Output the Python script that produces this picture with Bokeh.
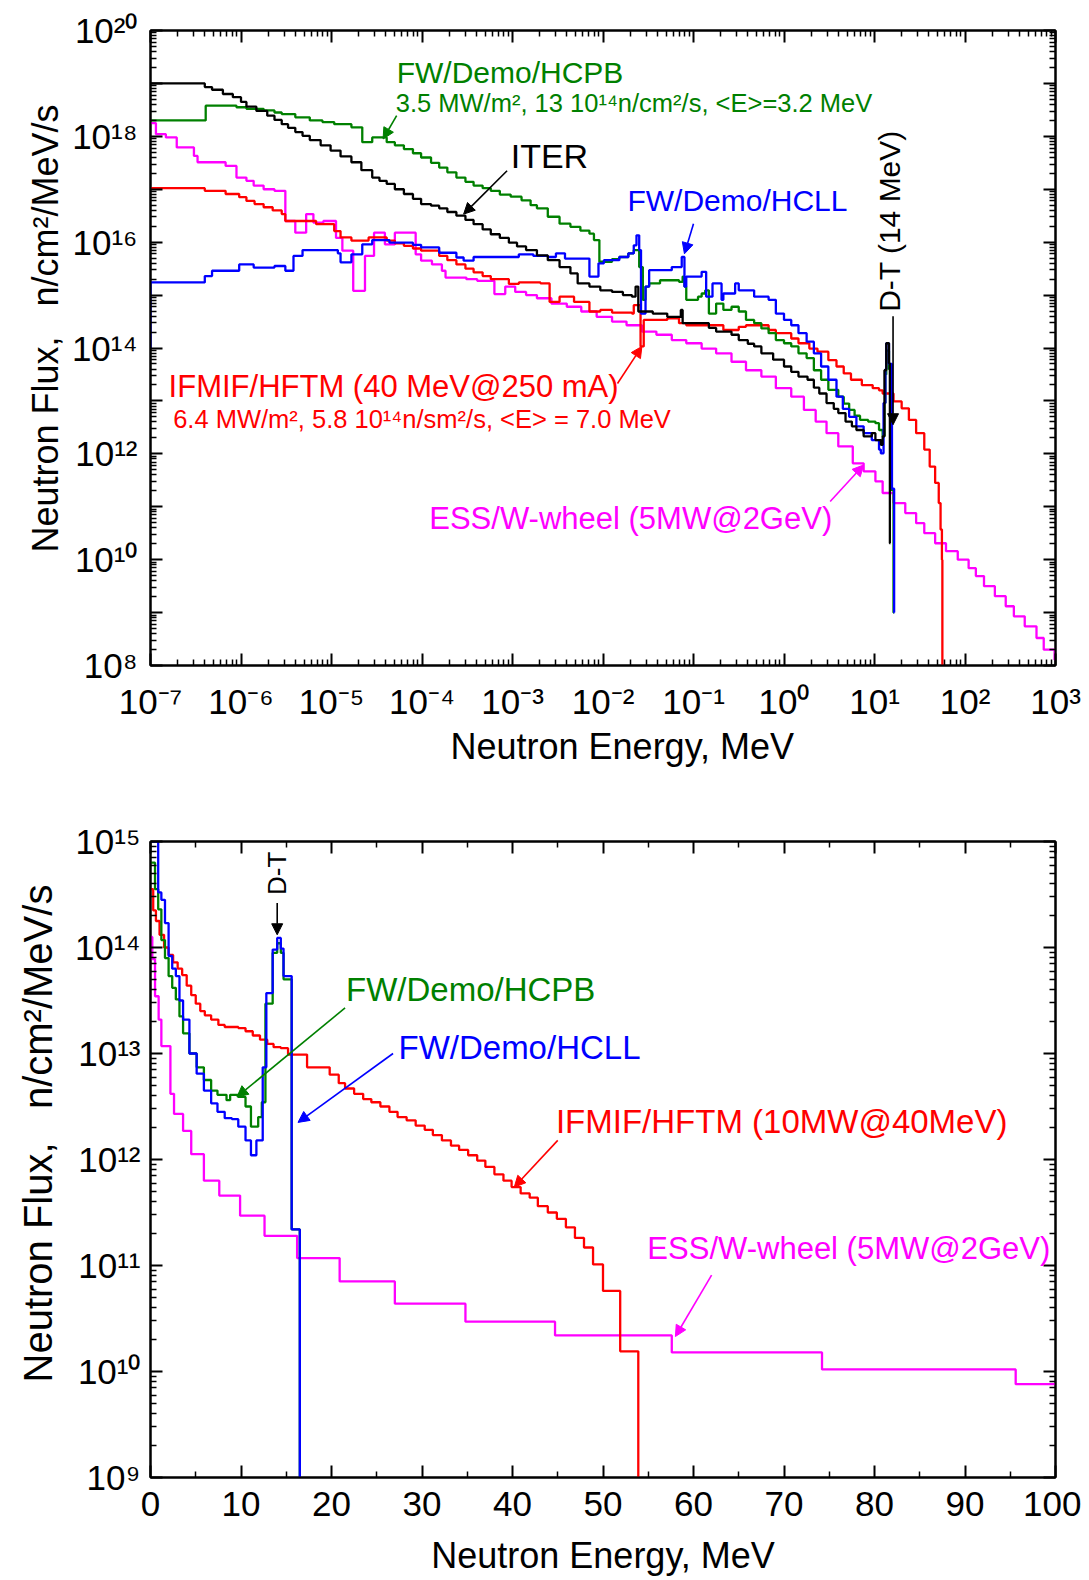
import numpy as np
from bokeh.plotting import figure
from bokeh.models import (Label, Arrow, NormalHead, LogAxis, LinearAxis, FixedTicker,
                          CustomJSTickFormatter, Range1d, Title)
from bokeh.layouts import column
from bokeh.embed import file_html
from bokeh.resources import INLINE

FONT = "Liberation Sans"
GREEN, BLUE, RED, MAGENTA, BLACK = "#008000", "#0000ff", "#ff0000", "#ff00ff", "#000000"

# ---------------- TOP PANEL DATA: (log10 E [MeV], log10 flux) step starts ----------------
ITER_TOP = [(-7.0, 19.0), (-6.40, 18.93), (-6.32, 18.88), (-6.20, 18.80), (-6.09, 18.74), (-6.00, 18.65),
            (-5.94, 18.56), (-5.83, 18.48), (-5.71, 18.39), (-5.63, 18.31), (-5.55, 18.23), (-5.48, 18.16),
            (-5.40, 18.08), (-5.32, 18.01), (-5.24, 17.93), (-5.12, 17.83), (-5.01, 17.73), (-4.90, 17.62),
            (-4.78, 17.51), (-4.67, 17.36), (-4.55, 17.22), (-4.47, 17.16), (-4.39, 17.10), (-4.30, 17.00),
            (-4.20, 16.91), (-4.10, 16.82), (-4.01, 16.72), (-3.90, 16.69), (-3.81, 16.64), (-3.72, 16.57),
            (-3.62, 16.50), (-3.52, 16.42), (-3.43, 16.34), (-3.33, 16.24), (-3.24, 16.15), (-3.14, 16.08),
            (-3.04, 15.99), (-2.95, 15.92), (-2.85, 15.85), (-2.73, 15.75), (-2.61, 15.66), (-2.48, 15.53),
            (-2.36, 15.41), (-2.28, 15.22), (-2.15, 15.16), (-2.03, 15.09), (-1.90, 15.06), (-1.78, 15.00),
            (-1.68, 14.97), (-1.64, 15.16), (-1.61, 14.69), (-1.45, 14.65), (-1.29, 14.59), (-1.14, 14.72),
            (-1.12, 14.47), (-0.83, 14.38), (-0.75, 14.31), (-0.58, 14.25), (-0.50, 14.15), (-0.40, 14.08),
            (-0.33, 14.03), (-0.25, 13.90), (-0.12, 13.78), (0.0, 13.65), (0.08, 13.55), (0.16, 13.46),
            (0.26, 13.40), (0.33, 13.25), (0.39, 13.14), (0.47, 12.96), (0.55, 12.85), (0.60, 12.77),
            (0.68, 12.61), (0.75, 12.52), (0.80, 12.45), (0.88, 12.33), (0.97, 12.39), (1.01, 12.26),
            (1.07, 12.17), (1.09, 12.33), (1.11, 13.58), (1.13, 14.09), (1.16, 13.71), (1.17, 10.31)]
ITER_TOP_END = 1.175

HCPB_TOP = [(-7.0, 18.30), (-6.39, 18.58), (-6.05, 18.55), (-5.94, 18.52), (-5.75, 18.49), (-5.63, 18.45),
            (-5.55, 18.42), (-5.40, 18.36), (-5.24, 18.30), (-5.10, 18.27), (-4.97, 18.23), (-4.78, 18.17),
            (-4.66, 17.89), (-4.55, 17.98), (-4.39, 17.89), (-4.30, 17.83), (-4.20, 17.76), (-4.10, 17.68),
            (-4.01, 17.60), (-3.90, 17.50), (-3.81, 17.41), (-3.72, 17.32), (-3.62, 17.22), (-3.52, 17.14),
            (-3.43, 17.07), (-3.33, 17.02), (-3.24, 16.97), (-3.14, 16.90), (-3.02, 16.86), (-2.90, 16.79),
            (-2.80, 16.70), (-2.73, 16.64), (-2.61, 16.48), (-2.48, 16.35), (-2.36, 16.29), (-2.25, 16.22),
            (-2.15, 16.16), (-2.10, 16.04), (-2.04, 15.63), (-1.90, 15.68), (-1.82, 15.72), (-1.72, 15.79),
            (-1.66, 15.85), (-1.60, 15.53), (-1.56, 14.91), (-1.53, 15.16), (-1.49, 15.22), (-1.37, 15.28),
            (-1.16, 15.25), (-1.12, 15.35), (-1.10, 15.16), (-1.08, 14.91), (-0.95, 14.97), (-0.91, 15.03),
            (-0.87, 15.09), (-0.83, 14.65), (-0.75, 14.84), (-0.67, 14.72), (-0.58, 14.78), (-0.50, 14.69),
            (-0.42, 14.53), (-0.33, 14.47), (-0.25, 14.37), (-0.17, 14.28), (-0.09, 14.15), (0.0, 14.09),
            (0.08, 14.03), (0.16, 13.90), (0.25, 13.81), (0.33, 13.58), (0.41, 13.40), (0.49, 13.21),
            (0.60, 13.08), (0.66, 12.95), (0.72, 12.83), (0.78, 12.72), (0.84, 12.64), (0.93, 12.61),
            (1.01, 12.58), (1.05, 12.45), (1.09, 12.33), (1.11, 12.96), (1.12, 13.50), (1.13, 13.95),
            (1.16, 13.60), (1.18, 11.32), (1.21, 9.0)]
HCPB_TOP_END = 1.215

HCLL_TOP = [(-7.0, 14.0), (-7.0, 15.24), (-6.40, 15.36), (-6.32, 15.46), (-6.02, 15.58), (-5.86, 15.52),
            (-5.63, 15.55), (-5.51, 15.46), (-5.42, 15.74), (-5.32, 15.85), (-4.93, 15.79), (-4.90, 15.62),
            (-4.78, 15.77), (-4.66, 15.96), (-4.55, 16.04), (-4.36, 15.99), (-4.10, 15.95), (-4.01, 15.90),
            (-3.81, 15.80), (-3.62, 15.71), (-3.54, 15.65), (-3.43, 15.72), (-2.93, 15.77), (-2.77, 15.74),
            (-2.61, 15.72), (-2.52, 15.79), (-2.42, 15.69), (-2.15, 15.35), (-2.05, 15.60), (-1.99, 15.66),
            (-1.82, 15.72), (-1.72, 15.79), (-1.66, 15.94), (-1.63, 16.13), (-1.60, 15.85), (-1.58, 14.65),
            (-1.53, 15.16), (-1.49, 15.47), (-1.24, 15.53), (-1.13, 15.72), (-1.10, 15.16), (-1.08, 15.35),
            (-0.91, 15.44), (-0.86, 14.97), (-0.79, 15.22), (-0.69, 14.91), (-0.67, 15.03), (-0.54, 15.22),
            (-0.50, 15.09), (-0.33, 14.97), (-0.17, 14.91), (-0.09, 14.65), (0.0, 14.53), (0.08, 14.43),
            (0.16, 14.28), (0.25, 14.12), (0.33, 13.90), (0.41, 13.65), (0.49, 13.40), (0.58, 13.08),
            (0.65, 12.85), (0.72, 12.70), (0.80, 12.52), (0.88, 12.39), (0.97, 12.26), (1.05, 12.08),
            (1.07, 12.01), (1.10, 12.96), (1.12, 13.60), (1.13, 14.09), (1.16, 13.70), (1.193, 11.34),
            (1.217, 9.0)]
HCLL_TOP_END = 1.22

IFMIF_TOP = [(-7.0, 17.02), (-6.40, 16.97), (-6.17, 16.91), (-6.02, 16.85), (-5.94, 16.78), (-5.85, 16.72),
             (-5.75, 16.66), (-5.65, 16.60), (-5.55, 16.53), (-5.51, 16.40), (-5.17, 16.34), (-4.97, 16.21),
             (-4.90, 16.09), (-4.78, 16.03), (-4.59, 16.09), (-4.39, 16.03), (-4.30, 15.98), (-4.20, 15.93),
             (-4.10, 15.88), (-4.01, 15.84), (-3.81, 15.74), (-3.72, 15.66), (-3.62, 15.58), (-3.52, 15.50),
             (-3.43, 15.43), (-3.33, 15.36), (-3.24, 15.30), (-3.04, 15.21), (-2.93, 15.24), (-2.69, 15.22),
             (-2.59, 14.87), (-2.48, 14.97), (-2.32, 14.87), (-2.15, 14.69), (-2.03, 14.72), (-1.90, 14.67),
             (-1.68, 14.65), (-1.66, 14.81), (-1.585, 14.03), (-1.55, 14.53), (-1.29, 14.56), (-1.16, 14.47),
             (-1.08, 14.43), (-0.67, 14.34), (-0.50, 14.40), (-0.42, 14.43), (-0.17, 14.34), (-0.09, 14.28),
             (0.08, 14.18), (0.16, 14.09), (0.28, 13.99), (0.37, 13.93), (0.49, 13.77), (0.58, 13.65),
             (0.66, 13.52), (0.74, 13.40), (0.86, 13.30), (0.98, 13.24), (1.05, 13.20), (1.09, 13.14),
             (1.21, 12.99), (1.30, 12.86), (1.38, 12.64), (1.46, 12.39), (1.55, 12.08), (1.61, 11.76),
             (1.67, 11.45), (1.71, 11.07), (1.73, 10.57), (1.745, 10.0), (1.75, 8.0)]
IFMIF_TOP_END = 1.755

ESS_TOP = [(-7.0, 18.25), (-6.94, 18.04), (-6.83, 17.98), (-6.71, 17.79), (-6.52, 17.63), (-6.48, 17.51),
           (-6.17, 17.44), (-6.05, 17.22), (-5.94, 17.16), (-5.86, 17.07), (-5.75, 17.00), (-5.63, 16.97),
           (-5.51, 16.40), (-5.40, 16.18), (-5.28, 16.53), (-5.20, 16.37), (-5.09, 16.40), (-4.95, 16.08),
           (-4.88, 15.84), (-4.76, 15.08), (-4.63, 15.74), (-4.53, 16.18), (-4.41, 15.96), (-4.30, 16.18),
           (-4.07, 15.77), (-4.01, 15.65), (-3.89, 15.58), (-3.78, 15.46), (-3.74, 15.33), (-3.51, 15.30),
           (-3.39, 15.27), (-3.20, 15.02), (-3.08, 15.16), (-2.97, 15.06), (-2.85, 15.00), (-2.73, 14.94),
           (-2.57, 14.84), (-2.40, 14.78), (-2.24, 14.69), (-2.07, 14.59), (-1.90, 14.50), (-1.74, 14.43),
           (-1.57, 14.31), (-1.41, 14.25), (-1.24, 14.15), (-1.08, 14.09), (-0.91, 13.99), (-0.75, 13.90),
           (-0.58, 13.74), (-0.42, 13.58), (-0.25, 13.46), (-0.09, 13.24), (0.08, 13.08), (0.22, 12.83),
           (0.35, 12.61), (0.47, 12.39), (0.60, 12.14), (0.76, 11.82), (0.88, 11.67), (1.01, 11.48),
           (1.09, 11.26), (1.21, 11.07), (1.34, 10.88), (1.46, 10.69), (1.55, 10.50), (1.67, 10.31),
           (1.79, 10.16), (1.92, 10.0), (2.04, 9.84), (2.12, 9.69), (2.21, 9.50), (2.33, 9.31),
           (2.45, 9.12), (2.54, 8.93), (2.66, 8.74), (2.79, 8.52), (2.87, 8.30), (2.99, 8.11)]
ESS_TOP_END = 3.0

# ---------------- BOTTOM PANEL DATA: (E [MeV], log10 flux) step starts ----------------
IFMIF_BOT = [(0.0, 14.55), (0.3, 14.35), (0.6, 14.25), (1.0, 14.12), (1.5, 14.0), (2.0, 13.93), (2.5, 13.86),
             (3.0, 13.80), (3.5, 13.74), (4.0, 13.64), (4.5, 13.55), (5.0, 13.47), (5.5, 13.40), (6.0, 13.36),
             (6.7, 13.32), (7.5, 13.27), (8.2, 13.25), (9.7, 13.24), (10.5, 13.21), (11.3, 13.17),
             (12.1, 13.13), (12.9, 13.09), (13.6, 13.06), (14.4, 13.05), (15.2, 12.99), (17.3, 12.87),
             (19.8, 12.80), (20.8, 12.72), (21.5, 12.67), (22.5, 12.62), (23.5, 12.57), (24.4, 12.54),
             (25.4, 12.50), (26.4, 12.45), (27.3, 12.40), (28.3, 12.37), (29.3, 12.32), (30.3, 12.28),
             (31.2, 12.23), (32.2, 12.18), (33.2, 12.13), (34.1, 12.09), (35.1, 12.04), (36.1, 11.99),
             (37.0, 11.93), (38.0, 11.86), (39.0, 11.80), (39.9, 11.74), (40.9, 11.68), (41.9, 11.64),
             (42.8, 11.56), (43.9, 11.50), (44.9, 11.44), (45.9, 11.36), (46.9, 11.26), (47.9, 11.17),
             (48.9, 11.01), (50.0, 10.76), (51.9, 10.19), (53.9, 9.0)]
IFMIF_BOT_END = 54.0

HCPB_BOT = [(0.0, 14.80), (0.5, 14.55), (0.85, 14.36), (1.2, 14.07), (1.6, 13.90), (2.0, 13.73), (2.4, 13.62),
            (2.8, 13.51), (3.2, 13.35), (3.6, 13.19), (4.3, 13.00), (5.1, 12.87), (5.9, 12.75), (6.7, 12.65),
            (7.4, 12.61), (8.4, 12.56), (8.8, 12.61), (9.7, 12.59), (10.5, 12.50), (11.1, 12.31),
            (11.9, 12.40), (12.3, 12.54), (12.7, 13.47), (13.5, 13.95), (14.0, 14.04), (14.4, 13.95),
            (14.7, 13.70), (15.6, 11.34), (16.5, 9.0)]
HCPB_BOT_END = 16.6

HCLL_BOT = [(0.0, 15.0), (0.5, 15.0), (0.85, 14.52), (1.2, 14.45), (1.6, 14.23), (2.0, 13.92), (2.4, 13.80),
            (2.8, 13.73), (3.2, 13.50), (3.6, 13.32), (4.3, 13.00), (5.1, 12.81), (5.9, 12.65), (6.7, 12.53),
            (7.4, 12.45), (8.2, 12.39), (9.0, 12.38), (9.7, 12.31), (10.5, 12.18), (11.1, 12.04),
            (11.7, 12.18), (12.4, 12.87), (12.8, 13.57), (13.5, 13.98), (14.0, 14.09), (14.4, 13.99),
            (14.7, 13.73), (15.6, 11.34), (16.5, 9.0)]
HCLL_BOT_END = 16.6

ESS_BOT = [(0.0, 14.10), (0.2, 13.89), (0.5, 13.54), (0.9, 13.32), (1.2, 13.07), (2.2, 12.62), (2.6, 12.43),
           (3.6, 12.27), (4.5, 12.05), (5.9, 11.80), (7.6, 11.66), (9.9, 11.47), (12.6, 11.28),
           (16.2, 11.07), (20.9, 10.85), (27.0, 10.64), (34.8, 10.47), (44.7, 10.34), (57.6, 10.18),
           (74.2, 10.02), (95.6, 9.88)]
ESS_BOT_END = 100.0

# ---------------- ticks and tick labels ----------------
TOP_X_EXP = list(range(-7, 4))
TOP_X_LABELS = ["10⁻⁷", "10⁻⁶", "10⁻⁵", "10⁻⁴", "10⁻³", "10⁻²", "10⁻¹", "10⁰", "10¹", "10²", "10³"]
TOP_Y_EXP = list(range(8, 21))
TOP_Y_LABELS = ["10⁸", "", "10¹⁰", "", "10¹²", "", "10¹⁴", "", "10¹⁶", "", "10¹⁸", "", "10²⁰"]
BOT_X_TICKS = list(range(0, 101, 10))
BOT_X_LABELS = ["0", "10", "20", "30", "40", "50", "60", "70", "80", "90", "100"]
BOT_Y_EXP = list(range(9, 16))
BOT_Y_LABELS = ["10⁹", "10¹⁰", "10¹¹", "10¹²", "10¹³", "10¹⁴", "10¹⁵"]

X_TITLE = "Neutron Energy, MeV"
Y_TITLE = "Neutron Flux,\u00a0\u00a0\u00a0n/cm\u00b2/MeV/s"

TICK_FS = "35px"


def step_xy(pairs, end, logx=True):
    xs = [p[0] for p in pairs] + [end]
    ys = [p[1] for p in pairs] + [pairs[-1][1]]
    xs = np.array(xs, dtype=float)
    ys = np.power(10.0, np.array(ys, dtype=float))
    if logx:
        xs = np.power(10.0, xs)
    return xs, ys


def style_axis(ax, ticker, labels=None, standoff=10):
    ax.ticker = ticker
    if labels is None:
        ax.formatter = CustomJSTickFormatter(code="return ''")
    else:
        ax.major_label_overrides = {float(t): s for t, s in zip(ticker.ticks, labels)}
        ax.major_label_text_font = FONT
        ax.major_label_text_font_size = TICK_FS
        ax.major_label_text_color = "black"
    ax.major_tick_in = 12
    ax.major_tick_out = 0
    ax.minor_tick_in = 6
    ax.minor_tick_out = 0
    ax.axis_line_width = 2
    ax.axis_line_color = "black"
    ax.major_tick_line_width = 2
    ax.minor_tick_line_width = 1.5
    ax.major_tick_line_color = "black"
    ax.minor_tick_line_color = "black"
    ax.major_label_standoff = standoff
    ax.axis_label = None


def lbl(p, x, y, text, fs, color="black", align="left", baseline="middle", angle=0.0):
    p.add_layout(Label(x=x, y=y, text=text, text_font=FONT,
                       text_font_size=f"{fs}px", text_color=color, text_align=align,
                       text_baseline=baseline, angle=angle))


def arrow(p, x0, y0, x1, y1, color):
    p.add_layout(Arrow(end=NormalHead(size=11, fill_color=color, line_color=color, line_width=1),
                       x_start=x0, y_start=y0, x_end=x1, y_end=y1,
                       line_color=color, line_width=1.6))


def side_title(p, text, side, fs, offset, standoff):
    p.add_layout(Title(text=text, align="left", offset=offset, standoff=standoff,
                       text_font=FONT, text_font_size=f"{fs}px", text_font_style="normal",
                       text_color="black"), side)


# ======================= TOP FIGURE =======================
p1 = figure(width=1081, height=790, x_axis_type="log", y_axis_type="log",
            x_range=Range1d(1e-7, 1e3), y_range=Range1d(1e8, 1e20),
            output_backend="svg", toolbar_location=None, title=None,
            min_border_left=148, min_border_right=24, min_border_top=30, min_border_bottom=125)
p1.grid.visible = False
p1.outline_line_color = "black"
p1.outline_line_width = 2
p1.background_fill_color = "white"
p1.border_fill_color = "white"


def xticker_top():
    return FixedTicker(ticks=[10.0 ** k for k in TOP_X_EXP],
                       minor_ticks=[m * 10.0 ** k for k in TOP_X_EXP[:-1] for m in range(2, 10)])


def yticker_top():
    return FixedTicker(ticks=[10.0 ** k for k in TOP_Y_EXP],
                       minor_ticks=[m * 10.0 ** k for k in TOP_Y_EXP[:-1] for m in range(2, 10)])


style_axis(p1.xaxis[0], xticker_top(), TOP_X_LABELS, standoff=16)
style_axis(p1.yaxis[0], yticker_top(), TOP_Y_LABELS, standoff=13)
ax_above = LogAxis()
style_axis(ax_above, xticker_top())
p1.add_layout(ax_above, "above")
ax_right = LogAxis()
style_axis(ax_right, yticker_top())
p1.add_layout(ax_right, "right")
side_title(p1, X_TITLE, "below", 36, 300, 0)
side_title(p1, Y_TITLE, "left", 36, 113, 6)

for pairs, end, col in [(ESS_TOP, ESS_TOP_END, MAGENTA), (IFMIF_TOP, IFMIF_TOP_END, RED),
                        (HCPB_TOP, HCPB_TOP_END, GREEN), (HCLL_TOP, HCLL_TOP_END, BLUE),
                        (ITER_TOP, ITER_TOP_END, BLACK)]:
    xs, ys = step_xy(pairs, end, logx=True)
    p1.step(x=xs, y=ys, mode="after", line_color=col, line_width=2.3)

# annotations (top)
lbl(p1, 10 ** -4.28, 10 ** 19.20, "FW/Demo/HCPB", 30, GREEN)
lbl(p1, 10 ** -4.29, 10 ** 18.63, "3.5 MW/m\u00b2, 13 10\u00b9\u2074n/cm\u00b2/s, <E>=3.2 MeV", 25.5, GREEN)
arrow(p1, 10 ** -4.28, 10 ** 18.39, 10 ** -4.43, 10 ** 17.95, GREEN)
lbl(p1, 10 ** -3.02, 10 ** 17.62, "ITER", 34, BLACK)
arrow(p1, 10 ** -3.06, 10 ** 17.35, 10 ** -3.54, 10 ** 16.53, BLACK)
lbl(p1, 10 ** -1.73, 10 ** 16.79, "FW/Demo/HCLL", 30, BLUE)
arrow(p1, 10 ** -1.0, 10 ** 16.35, 10 ** -1.10, 10 ** 15.78, BLUE)
lbl(p1, 10 ** 1.17, 10 ** 16.40, "D-T (14 MeV)", 30, BLACK, align="center", angle=np.pi / 2)
arrow(p1, 10 ** 1.205, 10 ** 14.6, 10 ** 1.205, 10 ** 12.55, BLACK)
lbl(p1, 10 ** -6.80, 10 ** 13.28, "IFMIF/HFTM (40 MeV@250 mA)", 31, RED)
lbl(p1, 10 ** -6.75, 10 ** 12.66, "6.4 MW/m\u00b2, 5.8 10\u00b9\u2074n/sm\u00b2/s, <E> = 7.0 MeV", 25.5, RED)
arrow(p1, 10 ** -1.84, 10 ** 13.33, 10 ** -1.57, 10 ** 14.03, RED)
lbl(p1, 10 ** -3.92, 10 ** 10.78, "ESS/W-wheel (5MW@2GeV)", 31, MAGENTA)
arrow(p1, 10 ** 0.51, 10 ** 11.10, 10 ** 0.88, 10 ** 11.79, MAGENTA)

# ======================= BOTTOM FIGURE =======================
p2 = figure(width=1081, height=788, y_axis_type="log",
            x_range=Range1d(0, 100), y_range=Range1d(1e9, 1e15),
            output_backend="svg", toolbar_location=None, title=None,
            min_border_left=150, min_border_right=26, min_border_top=51, min_border_bottom=101)
p2.grid.visible = False
p2.outline_line_color = "black"
p2.outline_line_width = 2
p2.background_fill_color = "white"
p2.border_fill_color = "white"


def xticker_bot():
    return FixedTicker(ticks=BOT_X_TICKS, minor_ticks=[t + 5 for t in BOT_X_TICKS[:-1]])


def yticker_bot():
    return FixedTicker(ticks=[10.0 ** k for k in BOT_Y_EXP],
                       minor_ticks=[m * 10.0 ** k for k in BOT_Y_EXP[:-1] for m in range(2, 10)])


style_axis(p2.xaxis[0], xticker_bot(), BOT_X_LABELS, standoff=14)
style_axis(p2.yaxis[0], yticker_bot(), BOT_Y_LABELS, standoff=10)
p2.xaxis[0].axis_label = X_TITLE
p2.xaxis[0].axis_label_standoff = 16
p2.xaxis[0].axis_label_text_font = FONT
p2.xaxis[0].axis_label_text_font_size = "36px"
p2.xaxis[0].axis_label_text_font_style = "normal"
p2.xaxis[0].axis_label_text_color = "black"
ax2_above = LinearAxis()
style_axis(ax2_above, xticker_bot())
p2.add_layout(ax2_above, "above")
ax2_right = LogAxis()
style_axis(ax2_right, yticker_bot())
p2.add_layout(ax2_right, "right")
side_title(p2, Y_TITLE, "left", 40, 95, 23)

for pairs, end, col in [(ESS_BOT, ESS_BOT_END, MAGENTA), (IFMIF_BOT, IFMIF_BOT_END, RED),
                        (HCPB_BOT, HCPB_BOT_END, GREEN), (HCLL_BOT, HCLL_BOT_END, BLUE)]:
    xs, ys = step_xy(pairs, end, logx=False)
    p2.step(x=xs, y=ys, mode="after", line_color=col, line_width=2.3)

lbl(p2, 14.0, 10 ** 14.70, "D-T", 26, BLACK, align="center", angle=np.pi / 2)
arrow(p2, 14.0, 10 ** 14.42, 14.0, 10 ** 14.12, BLACK)
lbl(p2, 21.6, 10 ** 13.60, "FW/Demo/HCPB", 33, GREEN)
arrow(p2, 21.5, 10 ** 13.43, 9.55, 10 ** 12.59, GREEN)
lbl(p2, 27.4, 10 ** 13.06, "FW/Demo/HCLL", 33, BLUE)
arrow(p2, 26.8, 10 ** 13.0, 16.3, 10 ** 12.35, BLUE)
lbl(p2, 44.8, 10 ** 12.36, "IFMIF/HFTM (10MW@40MeV)", 33, RED)
arrow(p2, 45.0, 10 ** 12.18, 40.2, 10 ** 11.74, RED)
lbl(p2, 54.9, 10 ** 11.16, "ESS/W-wheel (5MW@2GeV)", 31, MAGENTA)
arrow(p2, 62.0, 10 ** 10.91, 58.0, 10 ** 10.33, MAGENTA)

layout = column(p1, p2, spacing=0)
open("out.html", "w").write(file_html(layout, INLINE))
